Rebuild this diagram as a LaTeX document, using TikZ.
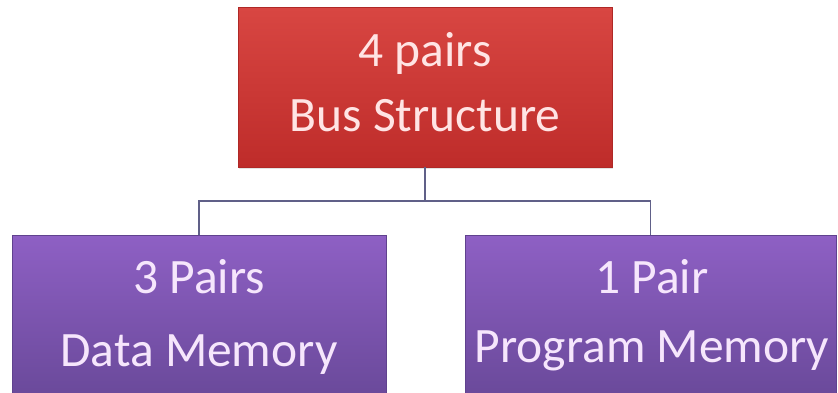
\documentclass[tikz,border=0pt]{standalone}
\usepackage{fontspec}
\setmainfont{Carlito}
\usetikzlibrary{calc,shadows}

\definecolor{busTop}{RGB}{216,70,66}
\definecolor{busBot}{RGB}{190,44,42}
\definecolor{busEdge}{RGB}{175,40,38}
\definecolor{memTop}{RGB}{142,96,196}
\definecolor{memBot}{RGB}{104,72,152}
\definecolor{memEdge}{RGB}{96,66,142}
\definecolor{wireCol}{RGB}{96,96,136}
\definecolor{busText}{RGB}{255,228,228}
\definecolor{memText}{RGB}{246,230,252}

\tikzset{
  box/.style={rectangle, inner sep=0pt, line width=0.6pt,
    drop shadow={opacity=0.22, shadow xshift=1.2pt, shadow yshift=-1.8pt}},
  busbox/.style={box, top color=busTop, bottom color=busBot, draw=busEdge},
  membox/.style={box, top color=memTop, bottom color=memBot, draw=memEdge},
  boxtext/.style={anchor=base, inner sep=0pt,
    font=\fontsize{49.5}{60}\selectfont},
  bustext/.style={boxtext, text=busText},
  memtext/.style={boxtext, text=memText},
  wire/.style={draw=wireCol, line width=1.8pt}
}

\begin{document}
\begin{tikzpicture}[x=1pt,y=-1pt]
  \useasboundingbox[fill=white] (0,0) rectangle (838,392);

  % boxes
  \node[busbox, minimum width=374pt, minimum height=160pt] (bus) at (425,87) {};
  \node[membox, minimum width=374pt, minimum height=170pt] (data) at (199,320) {};
  \node[membox, minimum width=371pt, minimum height=170pt] (prog) at (650.5,320) {};

  % connectors
  \coordinate (split) at ($(bus.south)+(0,34)$);
  \draw[wire] (bus.south) -- (split);
  \draw[wire] (split) -| (data.north);
  \draw[wire] (split) -| (prog.north);

  % labels
  \node[bustext] (busA) at (425,66) {4 pairs};
  \node[bustext] (busB) at (425,131) {Bus Structure};
  \node[memtext] (dataA) at (199,293) {3 Pairs};
  \node[memtext] (dataB) at (199,366) {Data Memory};
  \node[memtext] (progA) at (652,293) {1 Pair};
  \node[memtext] (progB) at (652,362) {Program Memory};
\end{tikzpicture}
\end{document}
